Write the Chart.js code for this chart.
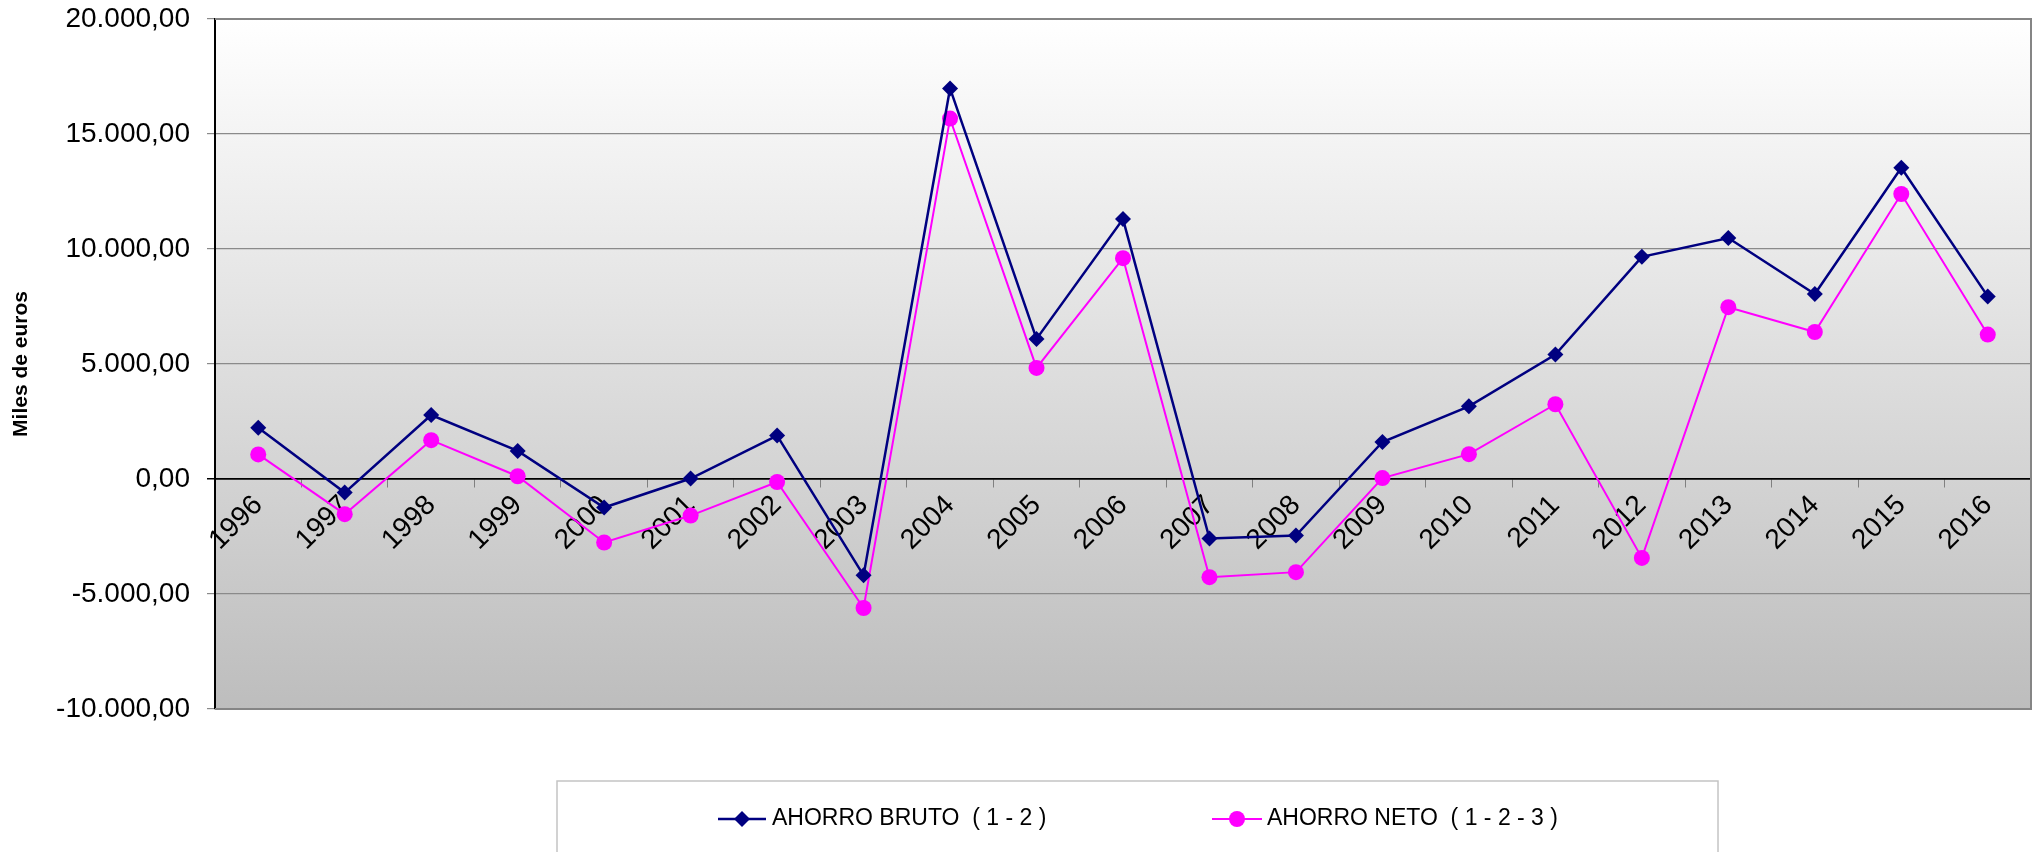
<!DOCTYPE html>
<html><head><meta charset="utf-8">
<script src="https://cdn.jsdelivr.net/npm/chart.js@4"></script>
<style>html,body{margin:0;padding:0;background:#fff}#wrap{width:2044px;height:852px}</style>
</head><body><div id="wrap"><canvas id="c" width="2044" height="852"></canvas></div>
<script>
const years = ['1996','1997','1998','1999','2000','2001','2002','2003','2004','2005','2006','2007','2008','2009','2010','2011','2012','2013','2014','2015','2016'];
const brutoLabel = 'AHORRO BRUTO  ( 1 - 2 )';
const netoLabel = 'AHORRO NETO  ( 1 - 2 - 3 )';
const bruto = [2230, -590, 2780, 1220, -1240, 20, 1890, -4190, 16980, 6090, 11300, -2590, -2460, 1610, 3160, 5410, 9660, 10480, 8040, 13530, 7940];
const neto = [1070, -1530, 1690, 120, -2760, -1590, -130, -5610, 15670, 4830, 9600, -4270, -4050, 40, 1080, 3250, -3430, 7470, 6390, 12390, 6280];
const yTitle = 'Miles de euros';
const yMin = -10000, yMax = 20000, yStep = 5000;

const FONT = '"Liberation Sans", Arial, sans-serif';
function fmt(v){
  const neg = v < 0; const a = Math.abs(v);
  const i = Math.floor(a); const d = Math.round((a - i) * 100);
  const s = String(i).replace(/\B(?=(\d{3})+(?!\d))/g, '.');
  return (neg ? '-' : '') + s + ',' + String(d).padStart(2, '0');
}

const bgPlugin = {
  id: 'bg',
  beforeDraw(chart){
    const {ctx, chartArea:{left, top, right, bottom}} = chart;
    const g = ctx.createLinearGradient(0, top, 0, bottom);
    g.addColorStop(0, '#ffffff');
    g.addColorStop(1, '#bdbdbd');
    ctx.save(); ctx.fillStyle = g; ctx.fillRect(left, top, right - left, bottom - top); ctx.restore();
  },
  beforeDatasetsDraw(chart){
    const {ctx, chartArea:{left, top, right, bottom}} = chart;
    ctx.save(); ctx.strokeStyle = '#858585'; ctx.lineWidth = 2;
    ctx.beginPath(); ctx.moveTo(left, top); ctx.lineTo(right, top); ctx.lineTo(right, bottom); ctx.lineTo(left, bottom); ctx.stroke();
    ctx.restore();
  }
};

const legendPlugin = {
  id: 'boxLegend',
  afterDraw(chart){
    const ctx = chart.ctx;
    ctx.save();
    ctx.strokeStyle = '#c4c4c4'; ctx.lineWidth = 1.5;
    ctx.strokeRect(557, 781, 1161, 120);
    const cy = 819;
    const items = [
      {x0: 718, x1: 766, tx: 772, ds: chart.data.datasets[0]},
      {x0: 1212, x1: 1262, tx: 1267, ds: chart.data.datasets[1]}
    ];
    items.forEach(it => {
      ctx.strokeStyle = it.ds.borderColor; ctx.lineWidth = it.ds.borderWidth;
      ctx.beginPath(); ctx.moveTo(it.x0, cy); ctx.lineTo(it.x1, cy); ctx.stroke();
      const cx = (it.x0 + it.x1) / 2;
      ctx.fillStyle = it.ds.pointBackgroundColor;
      ctx.beginPath();
      if (it.ds.pointStyle === 'rectRot') {
        const r = it.ds.pointRadius;
        ctx.moveTo(cx, cy - r); ctx.lineTo(cx + r, cy); ctx.lineTo(cx, cy + r); ctx.lineTo(cx - r, cy); ctx.closePath();
      } else {
        ctx.arc(cx, cy, it.ds.pointRadius, 0, Math.PI * 2);
      }
      ctx.fill();
      ctx.fillStyle = '#000'; ctx.font = '23px ' + FONT; ctx.textBaseline = 'middle'; ctx.textAlign = 'left';
      ctx.fillText(it.ds.label, it.tx, cy);
    });
    ctx.restore();
  }
};

new Chart(document.getElementById('c'), {
  type: 'line',
  data: {
    labels: years,
    datasets: [
      {label: brutoLabel, data: bruto, borderColor: '#000080', backgroundColor: '#000080', borderWidth: 2.5,
       pointStyle: 'rectRot', pointRadius: 8, pointBackgroundColor: '#000080', pointBorderColor: '#000080', pointBorderWidth: 0, tension: 0, fill: false},
      {label: netoLabel, data: neto, borderColor: '#ff00ff', backgroundColor: '#ff00ff', borderWidth: 2,
       pointStyle: 'circle', pointRadius: 8, pointBackgroundColor: '#ff00ff', pointBorderColor: '#ff00ff', pointBorderWidth: 0, tension: 0, fill: false}
    ]
  },
  options: {
    responsive: false, animation: false, devicePixelRatio: 1,
    layout: {padding: {left: 0, right: 13, top: 19, bottom: 143}},
    plugins: {legend: {display: false}, tooltip: {enabled: false}},
    scales: {
      x: {
        type: 'category', position: {y: 0}, offset: true,
        grid: {offset: true, drawOnChartArea: false, drawTicks: true, tickLength: 8, color: '#808080', lineWidth: 1},
        border: {display: true, color: '#000', width: 1.5},
        ticks: {minRotation: 45, maxRotation: 45, autoSkip: false, color: '#000', padding: 2, font: {family: FONT, size: 28}}
      },
      y: {
        min: yMin, max: yMax,
        ticks: {stepSize: yStep, callback: v => fmt(v), color: '#000', padding: 17, font: {family: FONT, size: 28}},
        grid: {
          color: c => (c.tick && c.tick.value === 0) ? '#000' : '#8a8a8a',
          lineWidth: c => (c.tick && c.tick.value === 0) ? 1.5 : 1.2,
          tickLength: 8, drawTicks: true
        },
        border: {color: '#000', width: 2},
        title: {display: true, text: yTitle, color: '#000', font: {family: FONT, size: 21, weight: 'bold'}, padding: {top: 9, bottom: 0}},
        afterFit: s => { s.width = 215; s.paddingTop = 0; s.paddingBottom = 0; }
      }
    }
  },
  plugins: [bgPlugin, legendPlugin]
});
</script></body></html>
